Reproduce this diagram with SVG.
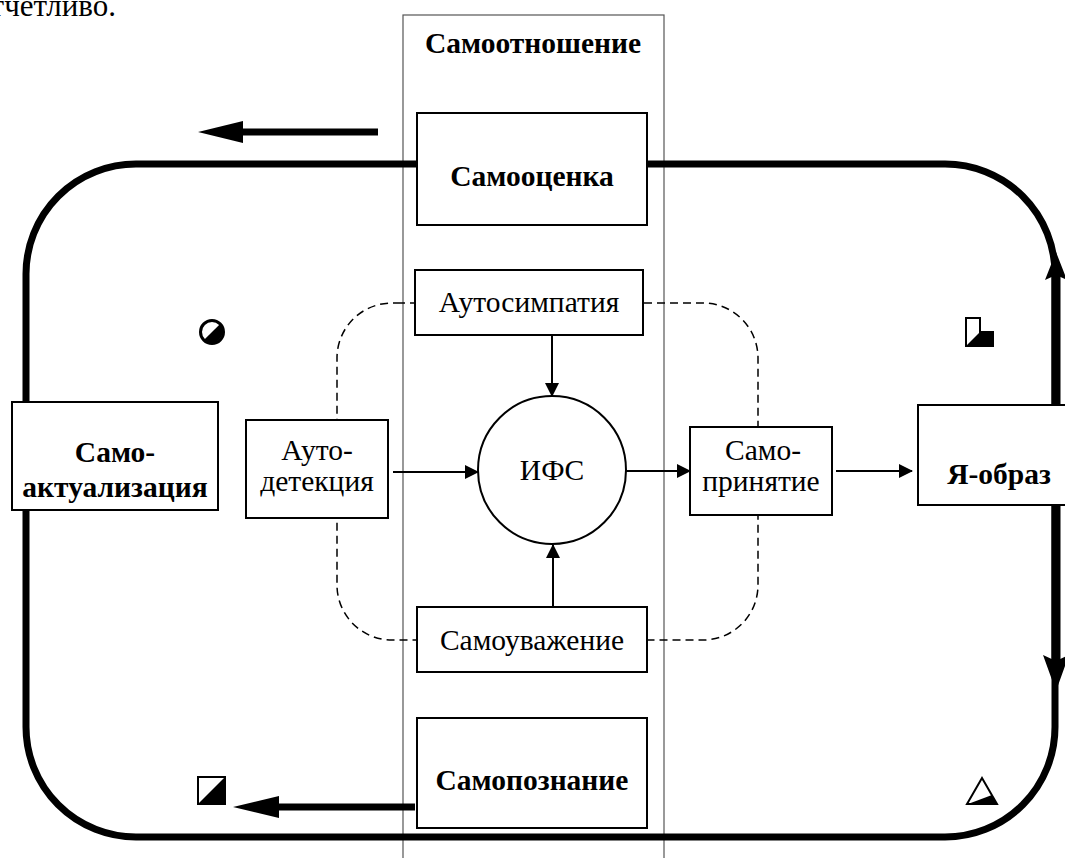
<svg xmlns="http://www.w3.org/2000/svg" width="1065" height="858" viewBox="0 0 1065 858">
<style>
text{font-family:"Liberation Serif","DejaVu Serif","Times New Roman",serif;fill:#000;text-anchor:middle}
.r{font-size:29.5px}
.b{font-size:29.5px;font-weight:bold}
.box{fill:#fff;stroke:#000;stroke-width:2}
.thin{stroke:#000;stroke-width:2;fill:none}
.thick{stroke:#000;stroke-width:7;fill:none}
.dash{stroke:#000;stroke-width:1.5;fill:none;stroke-dasharray:8 5}
.col{stroke:#555;stroke-width:1.2;fill:none}
.ico{stroke:#000;stroke-width:2;fill:#fff}
</style>
<defs>
<marker id="ah" markerWidth="14" markerHeight="14" refX="13" refY="7" orient="auto" markerUnits="userSpaceOnUse">
<path d="M0,0 L14,7 L0,14 Z" fill="#000"/>
</marker>
</defs>
<rect width="1065" height="858" fill="#fff"/>
<text x="116" y="16" style="text-anchor:end;font-size:31px">отчетливо.</text>
<g id="column">
<rect class="col" x="403" y="15" width="261" height="860"/>
<text class="b" x="533" y="53">Самоотношение</text>
</g>
<g id="loop">
<rect class="thick" x="26" y="164" width="1029" height="673" rx="110" ry="110"/>
</g>
<path class="dash" d="M397,303 H703 A55,55 0 0 1 758,358 V585 A55,55 0 0 1 703,640 H392 A55,55 0 0 1 337,585 V358 A55,55 0 0 1 392,303 Z"/>
<g id="connectors">
<line class="thin" x1="552" y1="335" x2="552" y2="396" marker-end="url(#ah)"/>
<line class="thin" x1="553" y1="607" x2="553" y2="545" marker-end="url(#ah)"/>
<line class="thin" x1="393" y1="472" x2="478" y2="472" marker-end="url(#ah)"/>
<line class="thin" x1="626" y1="471" x2="690" y2="471" marker-end="url(#ah)"/>
<line class="thin" x1="836" y1="471" x2="912" y2="471" marker-end="url(#ah)"/>
<line class="thick" x1="378" y1="132" x2="240" y2="132"/>
<polygon points="198,132 243,121 243,143" fill="#000"/>
<line class="thick" x1="415" y1="807" x2="277" y2="807"/>
<polygon points="233,807 279,796 279,818" fill="#000"/>
<line x1="1056" y1="405" x2="1056" y2="275" stroke="#000" stroke-width="9"/>
<polygon points="1056,252 1067,280 1056,275 1045,280" fill="#000"/>
<line x1="1056" y1="505" x2="1056" y2="662" stroke="#000" stroke-width="9"/>
<polygon points="1056,691 1043,655 1056,661 1069,655" fill="#000"/>
</g>
<g id="samootsenka"><rect class="box" x="417" y="113" width="230" height="112"/><text class="b" x="532" y="186">Самооценка</text></g>
<g id="autosimpatiya"><rect class="box" x="415" y="270" width="228" height="65"/><text class="r" x="529" y="312">Аутосимпатия</text></g>
<g id="autodetektsiya"><rect class="box" x="246" y="420" width="142" height="98"/><text class="r" x="317" y="460">Ауто-</text><text class="r" x="317" y="491">детекция</text></g>
<g id="ifs"><circle class="box" cx="552" cy="470" r="74"/><text class="r" x="552" y="480">ИФС</text></g>
<g id="samoprinyatie"><rect class="box" x="690" y="427" width="142" height="88"/><text class="r" x="763" y="460">Само-</text><text class="r" x="761" y="491">принятие</text></g>
<g id="samouvazhenie"><rect class="box" x="417" y="607" width="230" height="65"/><text class="r" x="532" y="650">Самоуважение</text></g>
<g id="samopoznanie"><rect class="box" x="417" y="718" width="230" height="110"/><text class="b" x="532" y="790">Самопознание</text></g>
<g id="samoaktualizatsiya"><rect class="box" x="12" y="402" width="206" height="108"/><text class="b" x="115" y="462">Само-</text><text class="b" x="115" y="497">актуализация</text></g>
<g id="yaobraz"><rect class="box" x="918" y="405" width="160" height="100"/><text class="b" x="999" y="484">Я-образ</text></g>
<g id="icons">
<circle cx="212" cy="332" r="11.5" fill="#fff" stroke="#000" stroke-width="3"/>
<path d="M220.1,323.9 A11.5,11.5 0 0 1 203.9,340.1 Z" fill="#000"/>
<rect class="ico" x="198" y="777" width="27" height="27"/>
<polygon points="198,804 225,777 225,804" fill="#000"/>
<polygon class="ico" points="966,318 980,318 980,332 993,332 993,346 966,346"/>
<polygon points="966,346 980,332 993,332 993,346" fill="#000"/>
<polygon class="ico" points="982,778 967,804 997,804"/>
<polygon points="968,804 992,795 997,804" fill="#000"/>
</g>
</svg>
